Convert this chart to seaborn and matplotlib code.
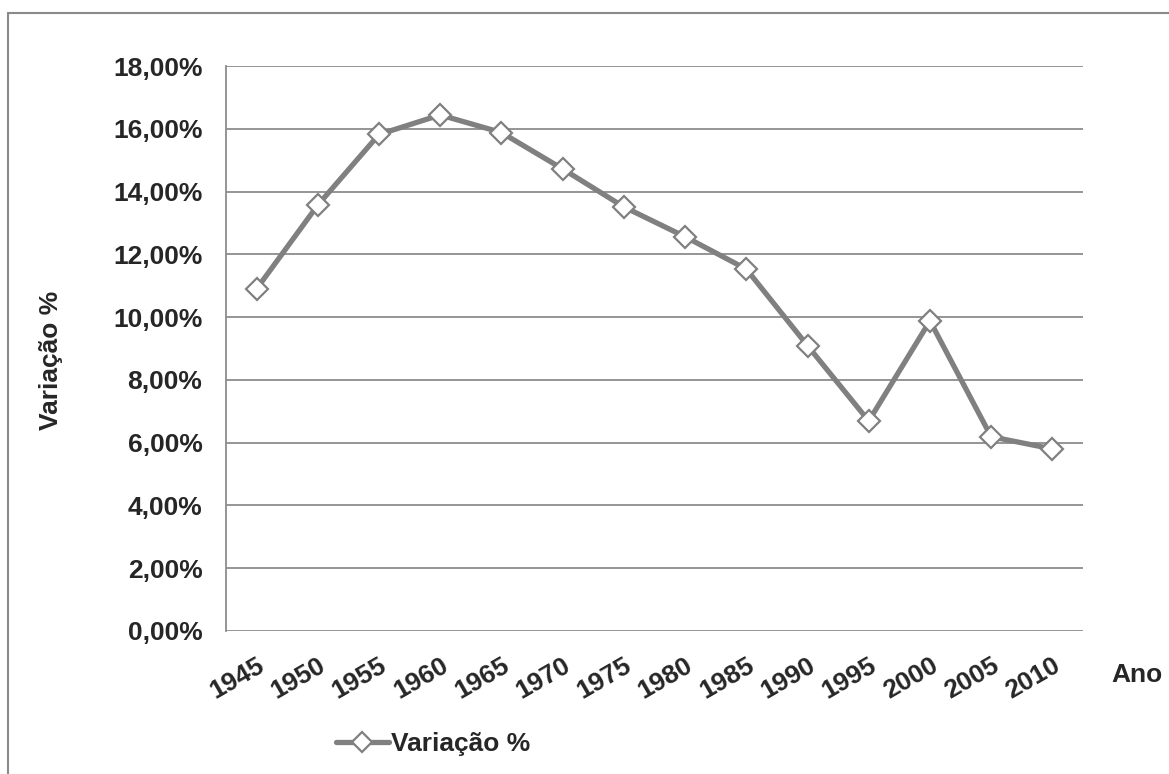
import numpy as np
import pandas as pd
import matplotlib
matplotlib.use("Agg")
import matplotlib.pyplot as plt
import matplotlib.patches as mpatches
import seaborn as sns

# DATA
anos = ["1945", "1950", "1955", "1960", "1965", "1970", "1975",
        "1980", "1985", "1990", "1995", "2000", "2005", "2010"]
variacao = [10.90, 13.57, 15.82, 16.44, 15.88, 14.72, 13.51,
            12.56, 11.53, 9.09, 6.69, 9.88, 6.19, 5.80]
yticks = [0, 2, 4, 6, 8, 10, 12, 14, 16, 18]

df = pd.DataFrame({"Ano": anos, "Variação %": variacao})

# STYLE
sns.set_style("white")
plt.rcParams["font.family"] = ["Liberation Sans", "DejaVu Sans"]
plt.rcParams["font.weight"] = "bold"
FS = 19
GRAY = "#808080"
GRID = "#8c8c8c"

fig = plt.figure(figsize=(11.69, 7.74), dpi=100)
ax = fig.add_axes([226 / 1169, 1 - 631 / 774, 857 / 1169, 565 / 774])

sns.lineplot(data=df, x="Ano", y="Variação %", ax=ax, color=GRAY,
             linewidth=3.8, marker="D", markersize=11.5,
             markerfacecolor="white", markeredgecolor=GRAY,
             markeredgewidth=1.6, label="Variação %", legend=False)

ax.set_xlim(-0.5, len(anos) - 0.5)
ax.set_ylim(0, 18)
ax.set_yticks(yticks)
ax.set_yticklabels([f"{v:.2f}%".replace(".", ",") for v in yticks],
                   fontsize=FS, fontweight="bold")
ax.yaxis.grid(True, color=GRID, linewidth=1.3)
ax.set_axisbelow(True)
ax.tick_params(axis="y", length=0, pad=17)
ax.tick_params(axis="x", length=0, pad=16)
for lbl in ax.get_xticklabels():
    lbl.set_rotation(30)
    lbl.set_ha("right")
    lbl.set_va("top")
    lbl.set_rotation_mode("anchor")
    lbl.set_fontsize(FS)
    lbl.set_fontweight("bold")

for s in ["top", "right", "bottom"]:
    ax.spines[s].set_visible(False)
ax.spines["left"].set_color(GRID)
ax.spines["left"].set_linewidth(1.3)
ax.set_xlabel("")
ax.set_ylabel("")

# axis titles
fig.text(51 / 1169, 1 - 360 / 774, "Variação %", rotation=90,
         ha="center", va="center", fontsize=FS, fontweight="bold")
fig.text(1137 / 1169, 1 - 675 / 774, "Ano", ha="center", va="center",
         fontsize=FS, fontweight="bold")

# legend
handles, labels = ax.get_legend_handles_labels()
fig.legend(handles, labels, loc="center left",
           bbox_to_anchor=(336 / 1169, 1 - 744 / 774), frameon=False,
           handlelength=2.0, handletextpad=0.1,
           borderpad=0, borderaxespad=0, markerscale=0.85,
           prop={"weight": "bold", "size": FS})

# outer chart border (left and top visible)
fig.add_artist(mpatches.Rectangle((8 / 1169, -0.05), 1.2, 1 - 13 / 774 + 0.05,
                                  transform=fig.transFigure, fill=False,
                                  edgecolor="#8a8a8a", linewidth=1.5))

fig.savefig("out.png", dpi=100)
